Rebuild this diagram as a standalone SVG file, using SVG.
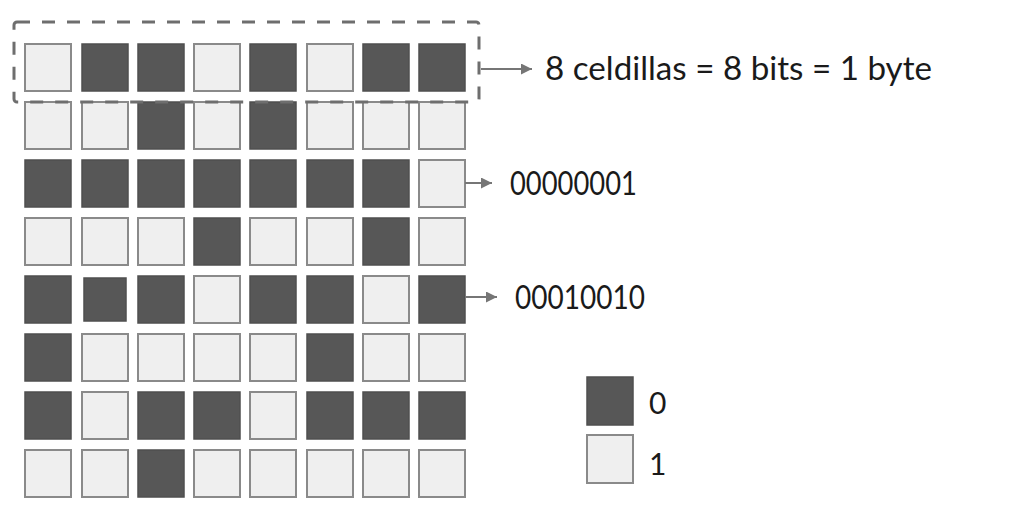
<svg xmlns="http://www.w3.org/2000/svg" width="1033" height="516" viewBox="0 0 1033 516">
<defs>
<style>
.d{fill:#575757;stroke:#4f4f4f;stroke-width:1.5}
.l{fill:#efefef;stroke:#8a8a8a;stroke-width:2}
.t{font-family:Lato,"Open Sans","Liberation Sans",sans-serif;fill:#1a1a1a}
.c{stroke:#767676;stroke-width:2;fill:none}
</style>
<marker id="ah" viewBox="0 0 10 10" refX="10" refY="5" markerWidth="11" markerHeight="11" markerUnits="userSpaceOnUse" orient="auto">
<path d="M0,0 L10,5 L0,10 Z" fill="#767676"/>
</marker>
</defs>
<rect width="1033" height="516" fill="#fff"/>
<g id="grid">
<!-- row 1: L D D L D L D D -->
<rect class="l" x="25" y="44" width="46" height="47"/>
<rect class="d" x="82" y="44" width="46" height="47"/>
<rect class="d" x="138" y="44" width="46" height="47"/>
<rect class="l" x="194" y="44" width="46" height="47"/>
<rect class="d" x="250" y="44" width="46" height="47"/>
<rect class="l" x="307" y="44" width="46" height="47"/>
<rect class="d" x="363" y="44" width="46" height="47"/>
<rect class="d" x="419" y="44" width="46" height="47"/>
<!-- row 2: L L D L D L L L -->
<rect class="l" x="25" y="102" width="46" height="47"/>
<rect class="l" x="82" y="102" width="46" height="47"/>
<rect class="d" x="138" y="102" width="46" height="47"/>
<rect class="l" x="194" y="102" width="46" height="47"/>
<rect class="d" x="250" y="102" width="46" height="47"/>
<rect class="l" x="307" y="102" width="46" height="47"/>
<rect class="l" x="363" y="102" width="46" height="47"/>
<rect class="l" x="419" y="102" width="46" height="47"/>
<!-- row 3: D D D D D D D L -->
<rect class="d" x="25" y="160" width="46" height="47"/>
<rect class="d" x="82" y="160" width="46" height="47"/>
<rect class="d" x="138" y="160" width="46" height="47"/>
<rect class="d" x="194" y="160" width="46" height="47"/>
<rect class="d" x="250" y="160" width="46" height="47"/>
<rect class="d" x="307" y="160" width="46" height="47"/>
<rect class="d" x="363" y="160" width="46" height="47"/>
<rect class="l" x="419" y="160" width="46" height="47"/>
<!-- row 4: L L L D L L D L -->
<rect class="l" x="25" y="218" width="46" height="47"/>
<rect class="l" x="82" y="218" width="46" height="47"/>
<rect class="l" x="138" y="218" width="46" height="47"/>
<rect class="d" x="194" y="218" width="46" height="47"/>
<rect class="l" x="250" y="218" width="46" height="47"/>
<rect class="l" x="307" y="218" width="46" height="47"/>
<rect class="d" x="363" y="218" width="46" height="47"/>
<rect class="l" x="419" y="218" width="46" height="47"/>
<!-- row 5: D D D L D D L D -->
<rect class="d" x="25" y="276" width="46" height="47"/>
<rect class="d" x="84" y="278" width="42" height="43"/>
<rect class="d" x="138" y="276" width="46" height="47"/>
<rect class="l" x="194" y="276" width="46" height="47"/>
<rect class="d" x="250" y="276" width="46" height="47"/>
<rect class="d" x="307" y="276" width="46" height="47"/>
<rect class="l" x="363" y="276" width="46" height="47"/>
<rect class="d" x="419" y="276" width="46" height="47"/>
<!-- row 6: D L L L L D L L -->
<rect class="d" x="25" y="334" width="46" height="47"/>
<rect class="l" x="82" y="334" width="46" height="47"/>
<rect class="l" x="138" y="334" width="46" height="47"/>
<rect class="l" x="194" y="334" width="46" height="47"/>
<rect class="l" x="250" y="334" width="46" height="47"/>
<rect class="d" x="307" y="334" width="46" height="47"/>
<rect class="l" x="363" y="334" width="46" height="47"/>
<rect class="l" x="419" y="334" width="46" height="47"/>
<!-- row 7: D L D D L D D D -->
<rect class="d" x="25" y="392" width="46" height="47"/>
<rect class="l" x="82" y="392" width="46" height="47"/>
<rect class="d" x="138" y="392" width="46" height="47"/>
<rect class="d" x="194" y="392" width="46" height="47"/>
<rect class="l" x="250" y="392" width="46" height="47"/>
<rect class="d" x="307" y="392" width="46" height="47"/>
<rect class="d" x="363" y="392" width="46" height="47"/>
<rect class="d" x="419" y="392" width="46" height="47"/>
<!-- row 8: L L D L L L L L -->
<rect class="l" x="25" y="450" width="46" height="47"/>
<rect class="l" x="82" y="450" width="46" height="47"/>
<rect class="d" x="138" y="450" width="46" height="47"/>
<rect class="l" x="194" y="450" width="46" height="47"/>
<rect class="l" x="250" y="450" width="46" height="47"/>
<rect class="l" x="307" y="450" width="46" height="47"/>
<rect class="l" x="363" y="450" width="46" height="47"/>
<rect class="l" x="419" y="450" width="46" height="47"/>
</g>
<g id="byte-frame">
<rect x="14" y="22" width="465" height="80" rx="3" fill="none" stroke="#6e6e6e" stroke-width="3" stroke-dasharray="13 12"/>
</g>
<g id="connectors">
<line class="c" x1="481" y1="69" x2="532" y2="69" marker-end="url(#ah)"/>
<line class="c" x1="465" y1="183" x2="492" y2="183" marker-end="url(#ah)"/>
<line class="c" x1="465" y1="297" x2="497" y2="297" marker-end="url(#ah)"/>
</g>
<g id="label-byte">
<text class="t" x="545" y="80" font-size="33" textLength="387" lengthAdjust="spacingAndGlyphs">8 celdillas = 8 bits = 1 byte</text>
</g>
<g id="label-row3">
<text class="t" x="510" y="195" font-size="32" textLength="127" lengthAdjust="spacingAndGlyphs">00000001</text>
</g>
<g id="label-row5">
<text class="t" x="515" y="309" font-size="32" textLength="130" lengthAdjust="spacingAndGlyphs">00010010</text>
</g>
<g id="legend">
<rect class="d" x="587" y="377" width="46" height="48"/>
<rect class="l" x="587" y="435" width="46" height="48"/>
<text class="t" x="649" y="414" font-size="30">0</text>
<text class="t" x="649" y="475" font-size="30">1</text>
</g>
</svg>
